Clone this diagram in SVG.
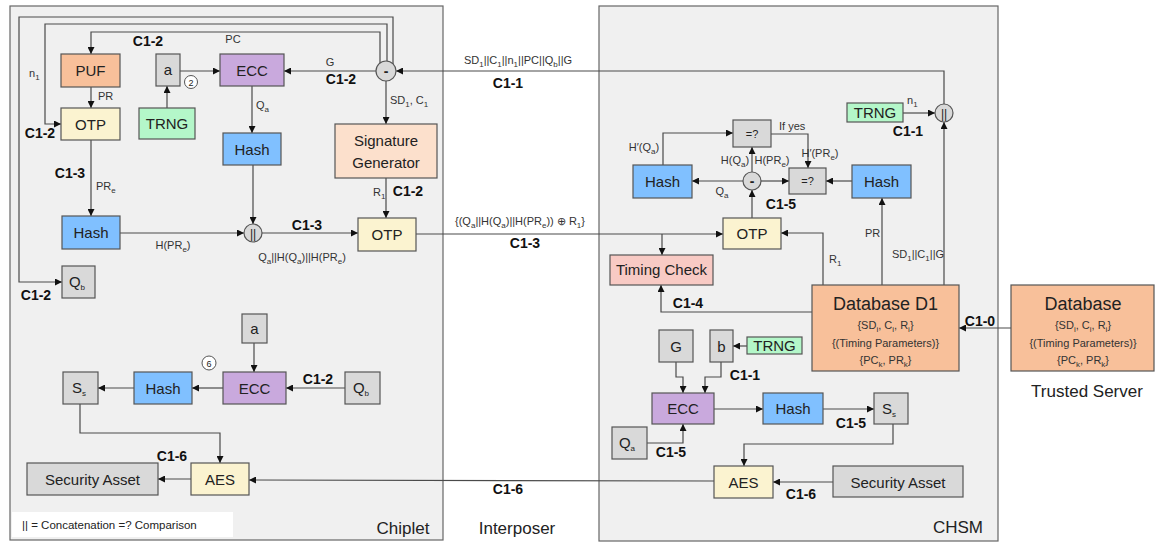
<svg xmlns="http://www.w3.org/2000/svg" width="1156" height="543" viewBox="0 0 1156 543">
<defs>
<marker id="ah" viewBox="0 0 10 10" refX="10" refY="5" markerWidth="8" markerHeight="7" orient="auto" markerUnits="userSpaceOnUse"><path d="M0,0 L10,5 L0,10 z" fill="#111"/></marker>
<style>
.panel{fill:#f0f0f0;stroke:#666;stroke-width:1.2}
.bx{stroke:#555;stroke-width:1.2}
.gray{fill:#d9d9d9}.puf{fill:#f8c09a}.ecc{fill:#c9a9dd}.otp{fill:#fbf3d0}.trng{fill:#b4f7c9}.hash{fill:#80c0ff}.sg{fill:#fce0cc}.tc{fill:#f8cac4}
.ln{fill:none;stroke:#4a4a4a;stroke-width:1.2}
.ar{marker-end:url(#ah)}
text{font-family:"Liberation Sans",Arial,sans-serif;fill:#222}
.t{font-size:15px;text-anchor:middle}
.s{font-size:11px;fill:#333}
.m{text-anchor:middle}
.b{font-size:14px;font-weight:bold;fill:#111}
.u{font-size:8px}
.big{font-size:17px}
</style>
</defs>

<g id="panels">
<rect class="panel" x="10" y="6" width="433" height="534"/>
<rect class="panel" x="599" y="6" width="399" height="535"/>
</g>

<g id="connectors">
<path class="ln ar" d="M393,64 L393,17 L19,17 L19,282 L62,282"/>
<path class="ln ar" d="M387,61 L387,24 L45,24 L45,124 L61,124"/>
<path class="ln ar" d="M380,63 L380,32 L91,32 L91,54"/>
<path class="ln ar" d="M376,71 L284,71"/>
<path class="ln ar" d="M944,104 L944,71 L396,71"/>
<path class="ln ar" d="M180,71 L220,71"/>
<path class="ln ar" d="M167,108 L167,86"/>
<path class="ln ar" d="M91,87 L91,108"/>
<path class="ln ar" d="M252,86 L252,133"/>
<path class="ln ar" d="M386,81 L386,124"/>
<path class="ln ar" d="M91,140 L91,216"/>
<path class="ln ar" d="M120,233 L244,233"/>
<path class="ln ar" d="M253,165 L253,224"/>
<path class="ln ar" d="M262,233 L358,233"/>
<path class="ln ar" d="M386,178 L386,218"/>
<path class="ln ar" d="M416,234 L723,234"/>
<path class="ln ar" d="M662,234 L662,255"/>
<path class="ln ar" d="M254,343 L254,372"/>
<path class="ln ar" d="M345,388 L286,388"/>
<path class="ln ar" d="M223,388 L192,388"/>
<path class="ln ar" d="M134,388 L98,388"/>
<path class="ln ar" d="M80,404 L80,433 L220,433 L220,463"/>
<path class="ln ar" d="M191,479 L158,479"/>
<path class="ln ar" d="M714,481 L249,480"/>
<path class="ln ar" d="M903,113 L935,113"/>
<path class="ln ar" d="M944,285 L944,122"/>
<path class="ln ar" d="M663,165 L663,133 L733,133"/>
<path class="ln ar" d="M743,181 L692,181"/>
<path class="ln ar" d="M752,172 L752,147"/>
<path class="ln ar" d="M761,181 L789,181"/>
<path class="ln ar" d="M771,134 L808,134 L808,168"/>
<path class="ln ar" d="M852,181 L826,181"/>
<path class="ln ar" d="M882,285 L882,198"/>
<path class="ln ar" d="M752,218 L752,190"/>
<path class="ln ar" d="M823,285 L823,233 L781,233"/>
<path class="ln ar" d="M812,312 L661,312 L661,285"/>
<path class="ln ar" d="M747,346 L733,346"/>
<path class="ln ar" d="M676,362 L676,377 L683,377 L683,393"/>
<path class="ln ar" d="M721,362 L721,377 L705,377 L705,393"/>
<path class="ln ar" d="M714,409 L763,409"/>
<path class="ln ar" d="M823,409 L874,409"/>
<path class="ln ar" d="M647,443 L683,443 L683,424"/>
<path class="ln ar" d="M893,424 L893,444 L744,444 L744,466"/>
<path class="ln ar" d="M833,482 L773,482"/>
<path class="ln ar" d="M1011,328 L959,328"/>
</g>

<g id="chiplet-nodes">
<g id="puf"><rect class="bx puf" x="61" y="54" width="59" height="33"/><text class="t" x="90.5" y="76">PUF</text></g>
<g id="a1"><rect class="bx gray" x="156" y="54" width="24" height="32"/><text class="t" x="168" y="75">a</text></g>
<g id="ecc1"><rect class="bx ecc" x="220" y="54" width="64" height="32"/><text class="t" x="252" y="76">ECC</text></g>
<g id="step2"><circle cx="191" cy="82" r="6.5" fill="#fff" stroke="#555"/><text class="m" x="191" y="85.5" font-size="9">2</text></g>
<g id="minus1"><circle class="bx gray" cx="386" cy="71" r="10"/><text class="m" x="386" y="76" font-size="14" font-weight="bold">-</text></g>
<g id="otp1"><rect class="bx otp" x="61" y="108" width="59" height="32"/><text class="t" x="90.5" y="130">OTP</text></g>
<g id="trng1"><rect class="bx trng" x="139" y="108" width="56" height="31"/><text class="t" x="167" y="129">TRNG</text></g>
<g id="hash1"><rect class="bx hash" x="223" y="133" width="58" height="32"/><text class="t" x="252" y="155">Hash</text></g>
<g id="siggen"><rect class="bx sg" x="335" y="124" width="102" height="54"/><text class="t" x="386" y="146">Signature</text><text class="t" x="386" y="168">Generator</text></g>
<g id="hash2"><rect class="bx hash" x="62" y="216" width="58" height="33"/><text class="t" x="91" y="238">Hash</text></g>
<g id="concat1"><circle class="bx gray" cx="253" cy="233" r="9"/><text class="m" x="253" y="237.5" font-size="12">||</text></g>
<g id="otp2"><rect class="bx otp" x="358" y="218" width="58" height="33"/><text class="t" x="387" y="240">OTP</text></g>
<g id="qb1"><rect class="bx gray" x="62" y="266" width="33" height="32"/><text class="t" x="77" y="287">Q<tspan class="u" dy="3">b</tspan></text></g>
<g id="a2"><rect class="bx gray" x="242" y="314" width="25" height="29"/><text class="t" x="254.5" y="334">a</text></g>
<g id="step6"><circle cx="209" cy="363" r="7" fill="#fff" stroke="#555"/><text class="m" x="209" y="366.5" font-size="9">6</text></g>
<g id="ecc2"><rect class="bx ecc" x="223" y="372" width="63" height="32"/><text class="t" x="254.5" y="394">ECC</text></g>
<g id="qb2"><rect class="bx gray" x="345" y="372" width="35" height="32"/><text class="t" x="361" y="393">Q<tspan class="u" dy="3">b</tspan></text></g>
<g id="hash3"><rect class="bx hash" x="134" y="372" width="58" height="32"/><text class="t" x="163" y="394">Hash</text></g>
<g id="ss1"><rect class="bx gray" x="63" y="372" width="35" height="32"/><text class="t" x="79" y="393">S<tspan class="u" dy="3">s</tspan></text></g>
<g id="aes1"><rect class="bx otp" x="191" y="463" width="58" height="32"/><text class="t" x="220" y="485">AES</text></g>
<g id="sa1"><rect class="bx gray" x="27" y="463" width="131" height="32"/><text class="t" x="92.5" y="485" font-size="16">Security Asset</text></g>
<g id="legend"><rect x="12" y="512" width="221" height="25" fill="#fff"/><text x="22" y="529" font-size="11.5">|| = Concatenation  =? Comparison</text></g>
</g>

<g id="chsm-nodes">
<g id="trng3"><rect class="bx trng" x="847" y="103" width="56" height="19"/><text class="t" x="875" y="118" font-size="14">TRNG</text></g>
<g id="concat2"><circle class="bx gray" cx="944" cy="113" r="9"/><text class="m" x="944" y="117.5" font-size="12">||</text></g>
<g id="cmp1"><rect class="bx gray" x="733" y="120" width="38" height="27"/><text class="m" x="752" y="138" font-size="11">=?</text></g>
<g id="hashL"><rect class="bx hash" x="633" y="165" width="59" height="33"/><text class="t" x="662.5" y="187">Hash</text></g>
<g id="minus2"><circle class="bx gray" cx="752" cy="181" r="9"/><text class="m" x="752" y="186" font-size="14" font-weight="bold">-</text></g>
<g id="cmp2"><rect class="bx gray" x="789" y="168" width="37" height="26"/><text class="m" x="807.5" y="185" font-size="11">=?</text></g>
<g id="hashR"><rect class="bx hash" x="852" y="165" width="59" height="33"/><text class="t" x="881.5" y="187">Hash</text></g>
<g id="otp3"><rect class="bx otp" x="723" y="218" width="58" height="31"/><text class="t" x="752" y="239">OTP</text></g>
<g id="timing"><rect class="bx tc" x="610" y="255" width="103" height="30"/><text class="t" x="661.5" y="275" font-size="14">Timing Check</text></g>
<g id="db1"><rect class="bx puf" x="812" y="285" width="147" height="86"/>
<text class="m" x="885.5" y="310" font-size="18">Database D1</text>
<text class="m s" x="885.5" y="329">{SD<tspan class="u" dy="3">i</tspan><tspan dy="-3">, C</tspan><tspan class="u" dy="3">i</tspan><tspan dy="-3">, R</tspan><tspan class="u" dy="3">i</tspan><tspan dy="-3">}</tspan></text>
<text class="m s" x="885.5" y="347">{(Timing Parameters)}</text>
<text class="m s" x="885.5" y="364">{PC<tspan class="u" dy="3">k</tspan><tspan dy="-3">, PR</tspan><tspan class="u" dy="3">k</tspan><tspan dy="-3">}</tspan></text></g>
<g id="gbox"><rect class="bx gray" x="659" y="330" width="34" height="32"/><text class="t" x="676" y="352">G</text></g>
<g id="bbox"><rect class="bx gray" x="710" y="330" width="23" height="32"/><text class="t" x="721.5" y="352">b</text></g>
<g id="trng4"><rect class="bx trng" x="747" y="337" width="55" height="17"/><text class="t" x="774.5" y="351" font-size="14">TRNG</text></g>
<g id="ecc3"><rect class="bx ecc" x="652" y="393" width="62" height="31"/><text class="t" x="683" y="414">ECC</text></g>
<g id="hash4"><rect class="bx hash" x="763" y="393" width="60" height="31"/><text class="t" x="793" y="414">Hash</text></g>
<g id="ss2"><rect class="bx gray" x="874" y="393" width="34" height="31"/><text class="t" x="889" y="414">S<tspan class="u" dy="3">s</tspan></text></g>
<g id="qa"><rect class="bx gray" x="612" y="427" width="35" height="32"/><text class="t" x="627" y="448">Q<tspan class="u" dy="3">a</tspan></text></g>
<g id="aes2"><rect class="bx otp" x="714" y="466" width="59" height="32"/><text class="t" x="743.5" y="488">AES</text></g>
<g id="sa2"><rect class="bx gray" x="833" y="466" width="130" height="31"/><text class="t" x="898" y="488" font-size="16">Security Asset</text></g>
</g>

<g id="server">
<g id="db"><rect class="bx puf" x="1011" y="285" width="143" height="86"/>
<text class="m" x="1083" y="310" font-size="18">Database</text>
<text class="m s" x="1083" y="329">{SD<tspan class="u" dy="3">i</tspan><tspan dy="-3">, C</tspan><tspan class="u" dy="3">i</tspan><tspan dy="-3">, R</tspan><tspan class="u" dy="3">i</tspan><tspan dy="-3">}</tspan></text>
<text class="m s" x="1083" y="347">{(Timing Parameters)}</text>
<text class="m s" x="1083" y="364">{PC<tspan class="u" dy="3">k</tspan><tspan dy="-3">, PR</tspan><tspan class="u" dy="3">k</tspan><tspan dy="-3">}</tspan></text></g>
<text class="m big" x="1087" y="397">Trusted Server</text>
</g>

<g id="labels">
<text class="s" x="29" y="77">n<tspan class="u" dy="3">1</tspan></text>
<text class="b m" x="148" y="46">C1-2</text>
<text class="s m" x="233" y="43">PC</text>
<text class="s m" x="330" y="66">G</text>
<text class="b m" x="341" y="84">C1-2</text>
<text class="s" x="98" y="100">PR</text>
<text class="b m" x="40" y="138">C1-2</text>
<text class="s" x="256" y="109">Q<tspan class="u" dy="3">a</tspan></text>
<text class="s" x="390" y="104">SD<tspan class="u" dy="3">1</tspan><tspan dy="-3">, C</tspan><tspan class="u" dy="3">1</tspan></text>
<text class="b m" x="70" y="178">C1-3</text>
<text class="s" x="96" y="190">PR<tspan class="u" dy="3">e</tspan></text>
<text class="s" x="373" y="196">R<tspan class="u" dy="3">1</tspan></text>
<text class="b m" x="408" y="196">C1-2</text>
<text class="b m" x="307" y="230">C1-3</text>
<text class="s m" x="173" y="249">H(PR<tspan class="u" dy="3">e</tspan><tspan dy="-3">)</tspan></text>
<text class="s m" x="302" y="261">Q<tspan class="u" dy="3">a</tspan><tspan dy="-3">||H(Q</tspan><tspan class="u" dy="3">a</tspan><tspan dy="-3">)||H(PR</tspan><tspan class="u" dy="3">e</tspan><tspan dy="-3">)</tspan></text>
<text class="b m" x="36" y="300">C1-2</text>
<text class="b m" x="318" y="384">C1-2</text>
<text class="b m" x="172" y="461">C1-6</text>
<text class="m big" x="403" y="534">Chiplet</text>
<text class="m big" x="517" y="534">Interposer</text>
<text class="m big" x="958" y="533">CHSM</text>
<text class="s m" x="518" y="64">SD<tspan class="u" dy="3">1</tspan><tspan dy="-3">||C</tspan><tspan class="u" dy="3">1</tspan><tspan dy="-3">||n</tspan><tspan class="u" dy="3">1</tspan><tspan dy="-3">||PC||Q</tspan><tspan class="u" dy="3">b</tspan><tspan dy="-3">||G</tspan></text>
<text class="b m" x="508" y="88">C1-1</text>
<text class="s m" x="520" y="225">{(Q<tspan class="u" dy="3">a</tspan><tspan dy="-3">||H(Q</tspan><tspan class="u" dy="3">a</tspan><tspan dy="-3">)||H(PR</tspan><tspan class="u" dy="3">e</tspan><tspan dy="-3">)) ⊕ R</tspan><tspan class="u" dy="3">1</tspan><tspan dy="-3">}</tspan></text>
<text class="b m" x="525" y="248">C1-3</text>
<text class="b m" x="508" y="494">C1-6</text>
<text class="s" x="907" y="104">n<tspan class="u" dy="3">1</tspan></text>
<text class="b m" x="908" y="136">C1-1</text>
<text class="s m" x="644" y="151">H′(Q<tspan class="u" dy="3">a</tspan><tspan dy="-3">)</tspan></text>
<text class="s" x="779" y="130">If yes</text>
<text class="s m" x="735" y="164">H(Q<tspan class="u" dy="3">a</tspan><tspan dy="-3">)</tspan></text>
<text class="s m" x="772" y="164">H(PR<tspan class="u" dy="3">e</tspan><tspan dy="-3">)</tspan></text>
<text class="s m" x="820" y="157">H′(PR<tspan class="u" dy="3">e</tspan><tspan dy="-3">)</tspan></text>
<text class="s m" x="722" y="195">Q<tspan class="u" dy="3">a</tspan></text>
<text class="b m" x="781" y="209">C1-5</text>
<text class="s" x="865" y="237">PR</text>
<text class="s" x="829" y="263">R<tspan class="u" dy="3">1</tspan></text>
<text class="s m" x="918" y="258">SD<tspan class="u" dy="3">1</tspan><tspan dy="-3">||C</tspan><tspan class="u" dy="3">1</tspan><tspan dy="-3">||G</tspan></text>
<text class="b m" x="688" y="308">C1-4</text>
<text class="b m" x="745" y="380">C1-1</text>
<text class="b m" x="851" y="428">C1-5</text>
<text class="b m" x="671" y="457">C1-5</text>
<text class="b m" x="801" y="499">C1-6</text>
<text class="b m" x="980" y="326">C1-0</text>
</g>
</svg>
